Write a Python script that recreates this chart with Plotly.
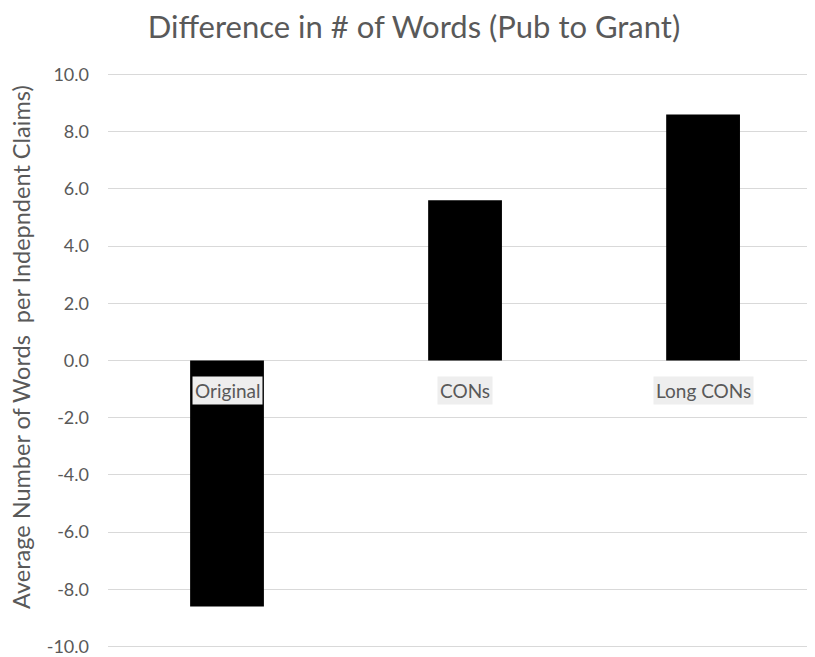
import plotly.graph_objects as go

categories = ["Original", "CONs", "Long CONs"]
values = [-8.6, 5.6, 8.6]
tick_vals = [10, 8, 6, 4, 2, 0, -2, -4, -6, -8, -10]
tick_text = ["%.1f" % v for v in tick_vals]

FONT = "Lato"
GRAY = "#595959"

W, H = 807, 649
L, R, T, B = 100, 1, 65, 9
PW = W - L - R
PH = H - T - B

fig = go.Figure()
fig.add_trace(go.Bar(x=categories, y=values, marker=dict(color="black", line=dict(width=0)),
                     width=0.31, showlegend=False))

for c in categories:
    fig.add_annotation(x=c, y=0, xref="x", yref="y", text=c, showarrow=False,
                       yanchor="middle", yshift=-30, bgcolor="#eeeeee",
                       font=dict(family=FONT, size=19, color=GRAY), borderpad=2)

fig.add_annotation(text="Average Number of Words  per Indepndent Claims)",
                   xref="paper", yref="paper", x=-87 / PW, y=1 - (339 - T) / PH,
                   xanchor="center", yanchor="middle", textangle=-90, showarrow=False,
                   font=dict(family=FONT, size=23.5, color=GRAY))

fig.update_layout(
    width=W, height=H,
    margin=dict(l=L, r=R, t=T, b=B),
    paper_bgcolor="white", plot_bgcolor="white",
    title=dict(text="Difference in # of Words (Pub to Grant)", x=406 / W, xanchor="center",
               y=1 - 19 / H, yanchor="middle", font=dict(family=FONT, size=31, color=GRAY)),
    xaxis=dict(type="category", range=[-0.5, 2.466], showticklabels=False, showgrid=False,
               zeroline=False, showline=False, ticks=""),
    yaxis=dict(range=[-10.05, 10.05], tickvals=tick_vals, ticktext=tick_text, showgrid=True,
               gridcolor="#d9d9d9", gridwidth=1, zeroline=True, zerolinecolor="#d9d9d9",
               zerolinewidth=1, showline=False, ticks="", ticklabelstandoff=18,
               tickfont=dict(family=FONT, size=18, color=GRAY),
               automargin=False),
)

fig.write_html("out.html")
